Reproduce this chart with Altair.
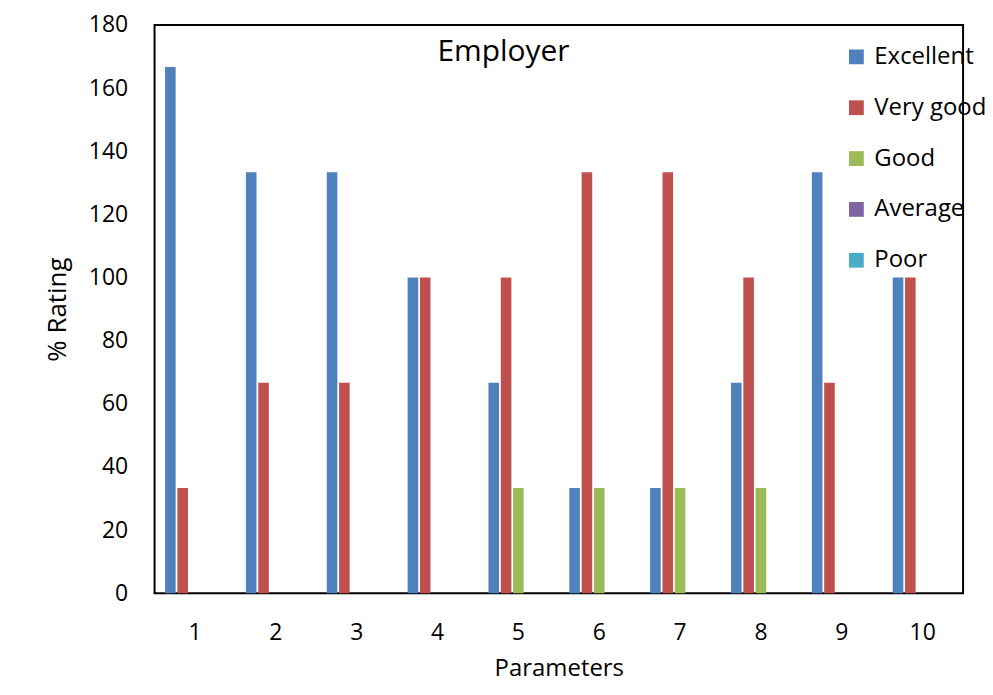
import altair as alt
import pandas as pd

params = [1, 2, 3, 4, 5, 6, 7, 8, 9, 10]
series = ["Excellent", "Very good", "Good", "Average", "Poor"]
colors = ["#4F81BD", "#C0504D", "#9BBB59", "#8064A2", "#4BACC6"]
excellent = [166.67, 133.33, 133.33, 100, 66.67, 33.33, 33.33, 66.67, 133.33, 100]
very_good = [33.33, 66.67, 66.67, 100, 100, 133.33, 133.33, 100, 66.67, 100]
good = [0, 0, 0, 0, 33.33, 33.33, 33.33, 33.33, 0, 0]
average = [0, 0, 0, 0, 0, 0, 0, 0, 0, 0]
poor = [0, 0, 0, 0, 0, 0, 0, 0, 0, 0]

vals = [excellent, very_good, good, average, poor]
rows = []
for s, v in zip(series, vals):
    for p, val in zip(params, v):
        rows.append({"Parameter": p, "Series": s, "Value": val})
df = pd.DataFrame(rows)

FONT = "Open Sans"

bars = alt.Chart(df).mark_bar(strokeWidth=0).encode(
    x=alt.X("Parameter:O", sort=params,
            scale=alt.Scale(paddingInner=0.26, paddingOuter=0.13),
            axis=alt.Axis(title="Parameters", labelAngle=0, labelFontSize=23,
                          labelPadding=28, ticks=False, domain=False,
                          titleFontSize=24, titleFontWeight="normal",
                          titlePadding=13, labelFont=FONT, titleFont=FONT,
                          labelColor="black", titleColor="black")),
    xOffset=alt.XOffset("Series:N", sort=series,
                        scale=alt.Scale(domain=series, paddingInner=0.14)),
    y=alt.Y("Value:Q", scale=alt.Scale(domain=[0, 180], nice=False),
            axis=alt.Axis(title="% Rating", values=list(range(0, 181, 20)),
                          labelFontSize=23, labelPadding=27, ticks=False,
                          domain=False, grid=False, titleFontSize=26,
                          titleFontWeight="normal", titlePadding=18,
                          labelFont=FONT, titleFont=FONT,
                          labelColor="black", titleColor="black")),
    color=alt.Color("Series:N", sort=series,
                    scale=alt.Scale(domain=series, range=colors),
                    legend=alt.Legend(title=None, orient="none", legendX=692,
                                      legendY=20, symbolType="square",
                                      symbolSize=220, symbolStrokeWidth=0,
                                      labelFontSize=24, labelFont=FONT,
                                      labelColor="black", rowPadding=27,
                                      labelOffset=6)),
)

title = alt.Chart(pd.DataFrame({"t": ["Employer"]})).mark_text(
    fontSize=30, font=FONT, color="black", baseline="middle", align="center"
).encode(text="t:N", x=alt.value(350), y=alt.value(27))

chart = alt.layer(bars, title).properties(
    width=811, height=570,
    autosize=alt.AutoSizeParams(type="none"),
    padding={"left": 147, "top": 16, "right": 22, "bottom": 92},
).configure(background="white").configure_view(stroke="black", strokeWidth=2)

chart.save("out.html", embed_options={"renderer": "svg", "actions": False})
